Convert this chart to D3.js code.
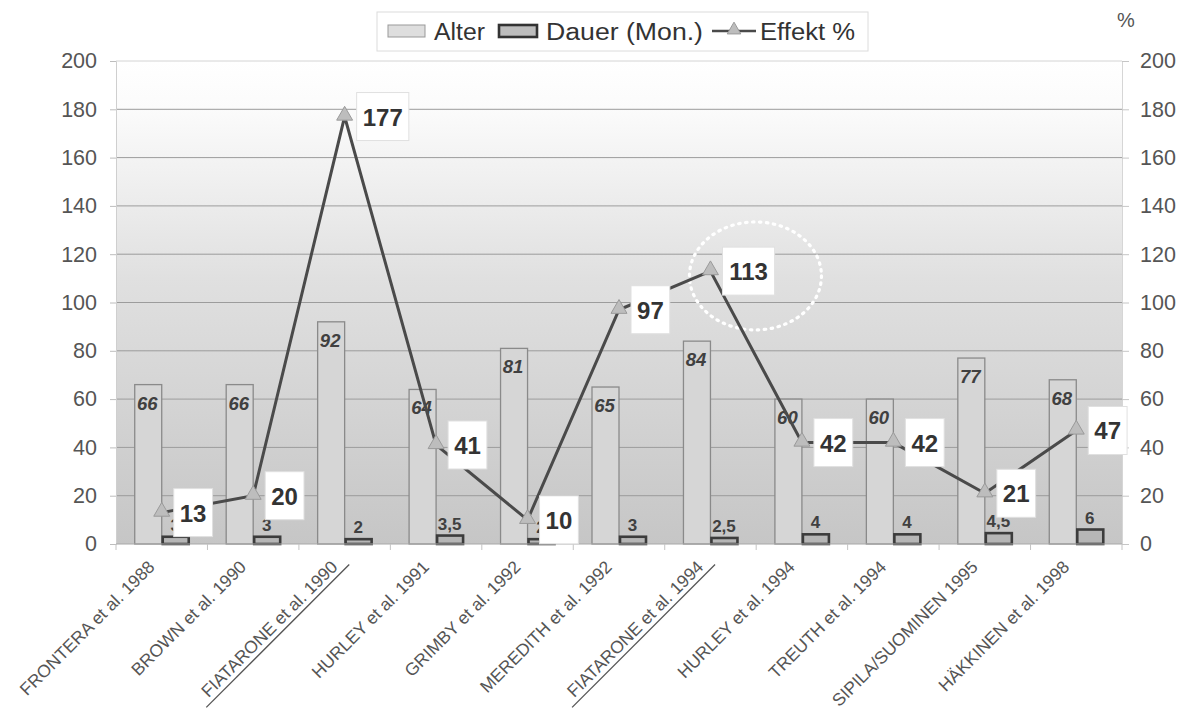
<!DOCTYPE html>
<html>
<head>
<meta charset="utf-8">
<script src="https://cdn.jsdelivr.net/npm/d3@7/dist/d3.min.js"></script>
<style>
  html, body { margin: 0; padding: 0; background: #ffffff; }
  svg { display: block; font-family: "Liberation Sans", Arial, sans-serif; }
</style>
</head>
<body>
<svg id="chart" width="1190" height="710"></svg>
<script>
// Studies (x categories)
const studies = [
  "FRONTERA et al. 1988", "BROWN et al. 1990", "FIATARONE et al. 1990",
  "HURLEY et al. 1991", "GRIMBY et al. 1992", "MEREDITH et al. 1992",
  "FIATARONE et al. 1994", "HURLEY et al. 1994", "TREUTH et al. 1994",
  "SIPILA/SUOMINEN 1995", "HÄKKINEN et al. 1998"
];
// Mean age of participants
const alter = [66, 66, 92, 64, 81, 65, 84, 60, 60, 77, 68];
// Training duration in months
const dauer = [3, 3, 2, 3.5, 2, 3, 2.5, 4, 4, 4.5, 6];
// Strength gain in percent
const effekt = [13, 20, 177, 41, 10, 97, 113, 42, 42, 21, 47];
// Studies whose labels are underlined
const underlined = ["FIATARONE et al. 1990", "FIATARONE et al. 1994"];
// Axis ticks (both sides)
const yTicks = [0, 20, 40, 60, 80, 100, 120, 140, 160, 180, 200];

const svg = d3.select("#chart");
const plot = { left: 116, right: 1122, top: 61, bottom: 544 };

const x = d3.scaleBand().domain(studies).range([plot.left, plot.right]).padding(0);
const y = d3.scaleLinear().domain([0, 200]).range([plot.bottom, plot.top]);
const yR = d3.scaleLinear().domain([0, 200]).range([plot.bottom, plot.top]);
const barW = 27;
const cx = s => x(s) + x.bandwidth() / 2;
const fmt = v => String(v).replace(".", ",");

// Plot-area background gradient
const defs = svg.append("defs");
const grad = defs.append("linearGradient").attr("id", "bg")
  .attr("x1", 0).attr("y1", 0).attr("x2", 0).attr("y2", 1);
grad.append("stop").attr("offset", "0%").attr("stop-color", "#ffffff");
grad.append("stop").attr("offset", "10%").attr("stop-color", "#fbfbfb");
grad.append("stop").attr("offset", "45%").attr("stop-color", "#e0e0e0");
grad.append("stop").attr("offset", "100%").attr("stop-color", "#c6c6c6");

svg.append("rect")
  .attr("x", plot.left).attr("y", plot.top)
  .attr("width", plot.right - plot.left).attr("height", plot.bottom - plot.top)
  .attr("fill", "url(#bg)");

// Gridlines
svg.append("g").selectAll("line").data(yTicks.filter(t => t > 0)).join("line")
  .attr("x1", plot.left).attr("x2", plot.right)
  .attr("y1", d => y(d)).attr("y2", d => y(d))
  .attr("stroke", d => d === 200 ? "#d4d4d4" : "#9c9c9c")
  .attr("stroke-width", 1);

// Left axis
const gL = svg.append("g").attr("transform", `translate(${plot.left},0)`)
  .call(d3.axisLeft(y).tickValues(yTicks).tickSize(6).tickPadding(13));
gL.select(".domain").attr("stroke", "#cfcfcf");
gL.selectAll(".tick line").attr("stroke", "#bdbdbd");
gL.selectAll(".tick text").attr("font-size", 21.5).attr("fill", "#555")
  .attr("font-family", "Liberation Sans, Arial, sans-serif");

// Right axis
const gR = svg.append("g").attr("transform", `translate(${plot.right},0)`)
  .call(d3.axisRight(yR).tickValues(yTicks).tickSize(7).tickPadding(11));
gR.select(".domain").attr("stroke", "#d6d6d6");
gR.selectAll(".tick line").attr("stroke", "#c6c6c6");
gR.selectAll(".tick text").attr("font-size", 21.5).attr("fill", "#555")
  .attr("font-family", "Liberation Sans, Arial, sans-serif");

svg.append("text").attr("x", 1126).attr("y", 27).attr("text-anchor", "middle")
  .attr("font-size", 20).attr("fill", "#555").text("%");

// Alter bars
svg.append("g").selectAll("rect").data(studies).join("rect")
  .attr("x", s => cx(s) - barW).attr("width", barW)
  .attr("y", (s, i) => y(alter[i])).attr("height", (s, i) => y(0) - y(alter[i]))
  .attr("fill", "#d6d6d6").attr("stroke", "#8a8a8a").attr("stroke-width", 1.3);

// Dauer bars
svg.append("g").selectAll("rect").data(studies).join("rect")
  .attr("x", s => cx(s) + 1).attr("width", barW - 1)
  .attr("y", (s, i) => y(dauer[i])).attr("height", (s, i) => y(0) - y(dauer[i]))
  .attr("fill", "#b6b6b6").attr("stroke", "#3c3c3c").attr("stroke-width", 2.6);

// X axis line and category ticks
svg.append("line").attr("x1", plot.left).attr("x2", plot.right)
  .attr("y1", plot.bottom).attr("y2", plot.bottom)
  .attr("stroke", "#a8a8a8").attr("stroke-width", 1);
svg.append("g").selectAll("line").data(studies.concat(["__end"])).join("line")
  .attr("x1", (s, i) => plot.left + i * x.bandwidth())
  .attr("x2", (s, i) => plot.left + i * x.bandwidth())
  .attr("y1", plot.bottom).attr("y2", plot.bottom + 6)
  .attr("stroke", "#c4c4c4");

// Alter value labels (inside bar tops)
svg.append("g").selectAll("text").data(studies).join("text")
  .attr("x", s => cx(s) - barW / 2 - 1)
  .attr("y", (s, i) => y(alter[i]) + 25)
  .attr("text-anchor", "middle")
  .attr("font-size", 18.5).attr("font-weight", "bold").attr("font-style", "italic")
  .attr("fill", "#404040")
  .text((s, i) => alter[i]);

// Dauer value labels (above bars)
svg.append("g").selectAll("text").data(studies).join("text")
  .attr("x", s => cx(s) + barW / 2)
  .attr("y", (s, i) => y(dauer[i]) - 6)
  .attr("text-anchor", "middle")
  .attr("font-size", 17).attr("font-weight", "bold")
  .attr("fill", "#404040")
  .text((s, i) => fmt(dauer[i]));

// Highlight ring around the FIATARONE 1994 result
const hi = "FIATARONE et al. 1994";
svg.append("ellipse")
  .attr("cx", cx(hi) + 45).attr("cy", y(111))
  .attr("rx", 66).attr("ry", 54)
  .attr("fill", "none").attr("stroke", "#ffffff")
  .attr("stroke-width", 3.2).attr("stroke-dasharray", "1.5 5.5")
  .attr("stroke-linecap", "round");

// Effekt line
const line = d3.line().x(d => cx(d.s)).y(d => y(d.v));
const pts = studies.map((s, i) => ({ s, v: effekt[i] }));
svg.append("path").datum(pts)
  .attr("d", line).attr("fill", "none")
  .attr("stroke", "#4a4a4a").attr("stroke-width", 3).attr("stroke-linejoin", "miter");

// Triangle markers
const tri = d3.symbol().type(d3.symbolTriangle).size(110);
svg.append("g").selectAll("path").data(pts).join("path")
  .attr("transform", d => `translate(${cx(d.s)},${y(d.v) - 1})`)
  .attr("d", tri)
  .attr("fill", "#bdbdbd").attr("stroke", "#9a9a9a").attr("stroke-width", 1);

// Effekt value labels in boxes
const lab = svg.append("g").selectAll("g").data(pts).join("g")
  .attr("transform", d => `translate(${cx(d.s) + 12},${y(d.v)})`);
lab.append("rect")
  .attr("x", 0).attr("y", -24)
  .attr("width", d => String(d.v).length * 13.4 + 12).attr("height", 48)
  .attr("fill", "#ffffff").attr("stroke", "#e0e0e0").attr("stroke-width", 1);
lab.append("text")
  .attr("x", d => (String(d.v).length * 13.4 + 12) / 2).attr("y", 9)
  .attr("text-anchor", "middle")
  .attr("font-size", 24).attr("font-weight", "bold").attr("fill", "#333")
  .text(d => d.v);

// Category labels, rotated
const xl = svg.append("g").selectAll("g").data(studies).join("g")
  .attr("transform", s => `translate(${cx(s) - 6},${plot.bottom + 24}) rotate(-45)`);
xl.append("text")
  .attr("text-anchor", "end")
  .attr("font-size", 17.5).attr("fill", "#555")
  .text(s => s);
xl.filter(s => underlined.includes(s)).each(function () {
  const g = d3.select(this);
  const w = g.select("text").node().getComputedTextLength();
  g.append("line")
    .attr("x1", -w - 8).attr("x2", 10).attr("y1", 5).attr("y2", 5)
    .attr("stroke", "#555").attr("stroke-width", 1.3);
});

// Legend
const leg = svg.append("g");
leg.append("rect").attr("x", 377).attr("y", 12).attr("width", 491).attr("height", 39)
  .attr("fill", "#ffffff").attr("stroke", "#dcdcdc");
leg.append("rect").attr("x", 388).attr("y", 25).attr("width", 37).attr("height", 12)
  .attr("fill", "#dedede").attr("stroke", "#999");
leg.append("text").attr("x", 434).attr("y", 40).attr("font-size", 23).attr("fill", "#333")
  .attr("textLength", 51).attr("lengthAdjust", "spacingAndGlyphs").text("Alter");
leg.append("rect").attr("x", 499).attr("y", 25).attr("width", 38).attr("height", 12)
  .attr("fill", "#bdbdbd").attr("stroke", "#333").attr("stroke-width", 2.6);
leg.append("text").attr("x", 546).attr("y", 40).attr("font-size", 23).attr("fill", "#333")
  .attr("textLength", 157).attr("lengthAdjust", "spacingAndGlyphs").text("Dauer (Mon.)");
leg.append("line").attr("x1", 712).attr("x2", 756).attr("y1", 31).attr("y2", 31)
  .attr("stroke", "#4a4a4a").attr("stroke-width", 2.5);
leg.append("path").attr("transform", "translate(734,30)").attr("d", d3.symbol().type(d3.symbolTriangle).size(80)())
  .attr("fill", "#bdbdbd").attr("stroke", "#9a9a9a");
leg.append("text").attr("x", 760).attr("y", 40).attr("font-size", 23).attr("fill", "#333")
  .attr("textLength", 95).attr("lengthAdjust", "spacingAndGlyphs").text("Effekt %");
</script>
</body>
</html>
